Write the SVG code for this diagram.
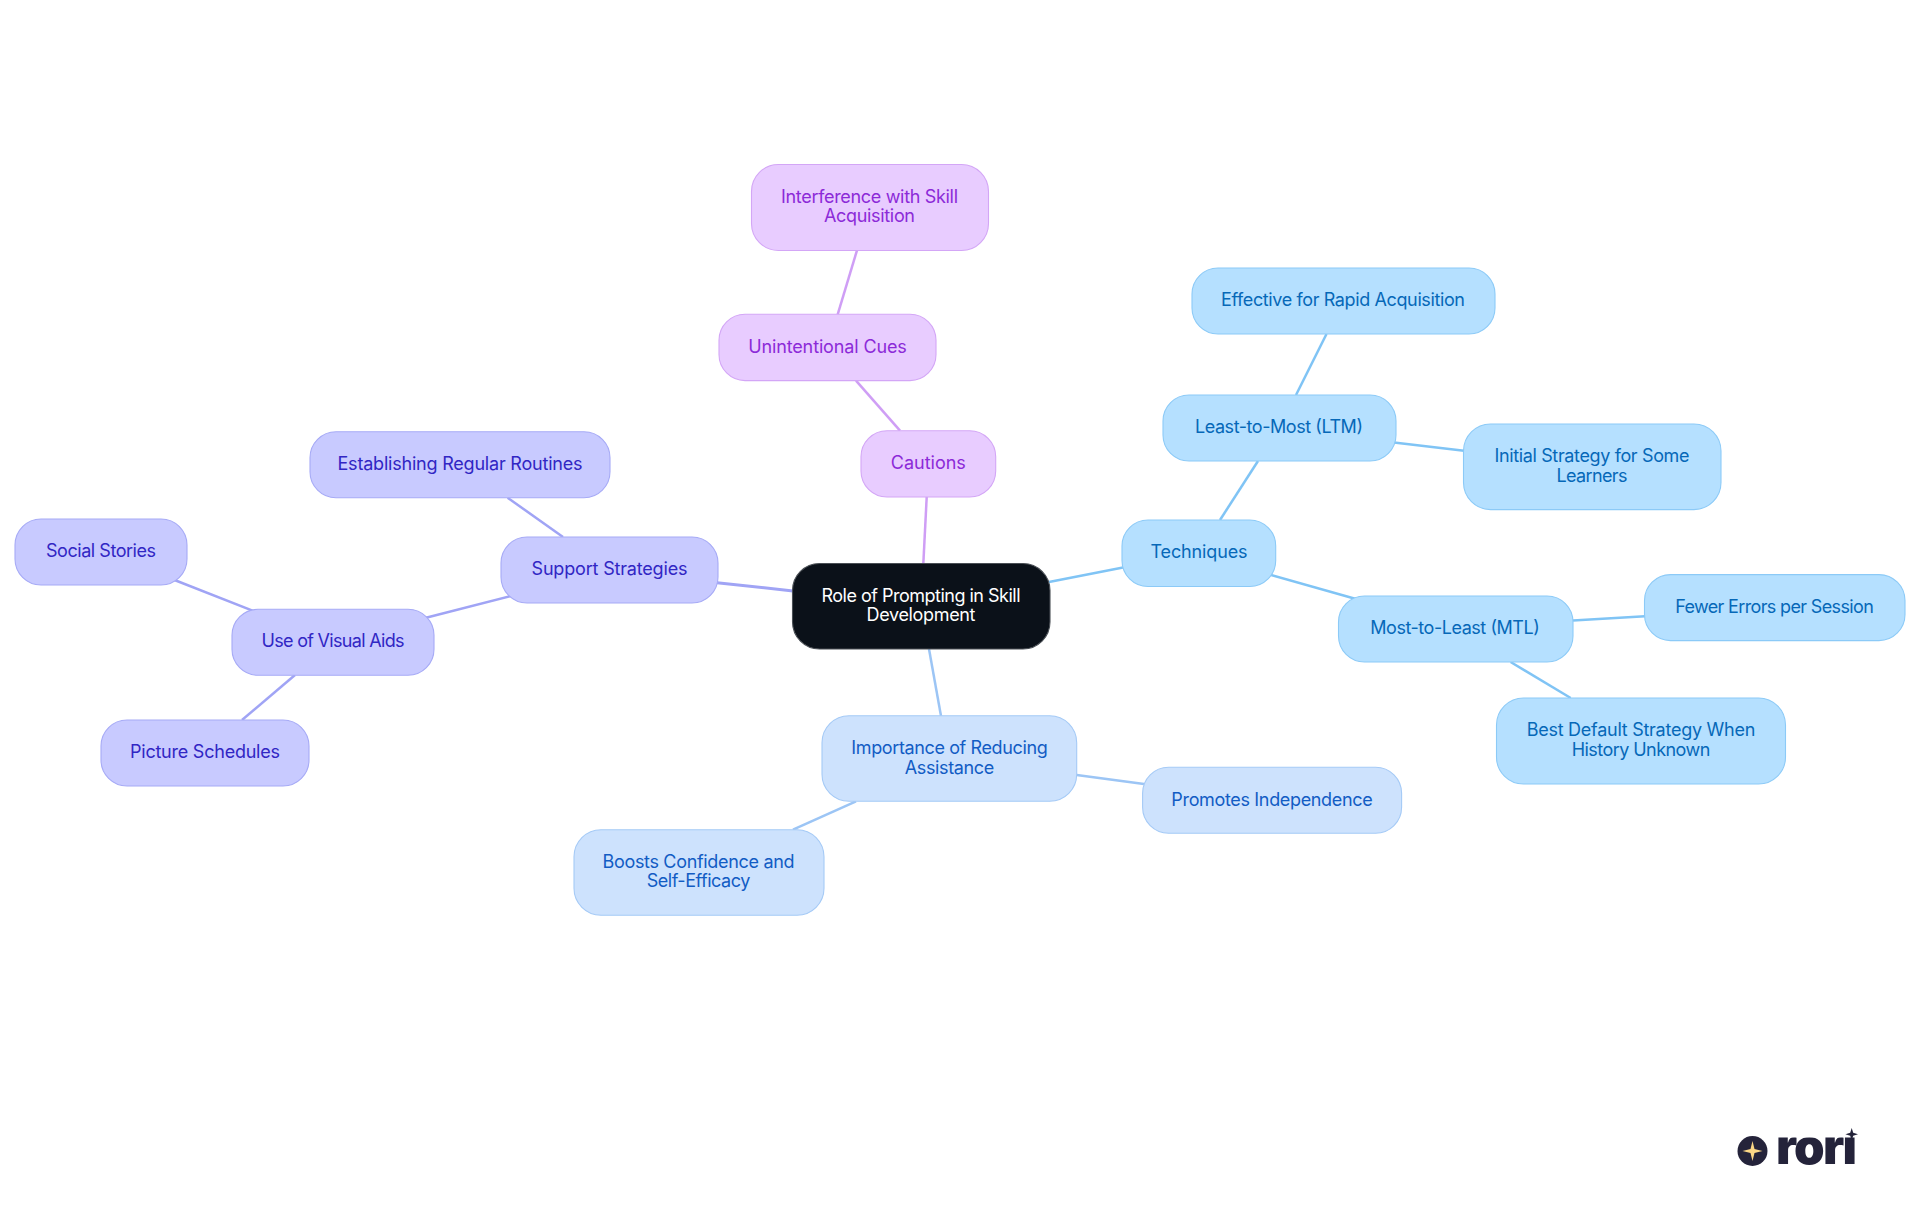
<svg xmlns="http://www.w3.org/2000/svg" width="1920" height="1215" viewBox="0 0 1920 1215">
<style>
text{font-family:"Inter","Noto Sans","Liberation Sans",sans-serif;font-size:18px;font-weight:385;text-anchor:middle}
rect{stroke-width:1.1}
.c line{stroke-width:2.5;fill:none}
.root rect{fill:#0b1119;stroke:#4a4f55}.root text{fill:#ffffff}
.sky rect{fill:#b5e0ff;stroke:#8ccaf7}.sky text{fill:#0668b8}
.blu rect{fill:#cde2fd;stroke:#a5caf6}.blu text{fill:#125cc4}
.ind rect{fill:#c8caff;stroke:#a6aaf6}.ind text{fill:#3126c4}
.pur rect{fill:#e8ccff;stroke:#d3a6f6}.pur text{fill:#8c2ad8}
.sl{stroke:#80c4f5}.bl{stroke:#9cc5f5}.il{stroke:#a0a4f5}.pl{stroke:#cf9ef5}
</style>
<defs><clipPath id="logo-clip"><rect x="1770" y="1137.4" width="95" height="30"/></clipPath></defs>
<rect width="1920" height="1215" fill="#fff" stroke="none"/>
<g id="connectors" class="c">
<line class="il" x1="717" y1="582.7" x2="793" y2="591" style="stroke-width:3"/>
<line class="il" x1="563" y1="537" x2="507.6" y2="497.7"/>
<line class="il" x1="511" y1="596" x2="425" y2="618"/>
<line class="il" x1="252.5" y1="610.7" x2="174.5" y2="580"/>
<line class="il" x1="295" y1="675" x2="242" y2="720"/>
<line class="pl" x1="926.7" y1="497" x2="923.3" y2="564"/>
<line class="pl" x1="856" y1="380.7" x2="900" y2="430.7"/>
<line class="pl" x1="837.7" y1="314.3" x2="857" y2="250.3"/>
<line class="sl" x1="1049" y1="582" x2="1123" y2="567.5"/>
<line class="sl" x1="1220" y1="520" x2="1258" y2="461"/>
<line class="sl" x1="1296" y1="395" x2="1326.5" y2="334"/>
<line class="sl" x1="1394" y1="442.6" x2="1464" y2="450.7"/>
<line class="sl" x1="1270" y1="574.6" x2="1356" y2="599"/>
<line class="sl" x1="1573" y1="620.5" x2="1645" y2="616.3"/>
<line class="sl" x1="1510.6" y1="662" x2="1570.7" y2="698"/>
<line class="bl" x1="929" y1="649" x2="941" y2="716"/>
<line class="bl" x1="1076.7" y1="775" x2="1144" y2="784"/>
<line class="bl" x1="856" y1="801.3" x2="793" y2="829.7"/>
</g>
<g id="root" class="root"><rect x="792.5" y="563.5" width="257.5" height="85.5" rx="27"/><text x="921" y="602" textLength="199">Role of Prompting in Skill</text><text x="921" y="621" textLength="109">Development</text></g>
<g id="support" class="ind"><rect x="501" y="537" width="217" height="66" rx="26"/><text x="609.5" y="575" textLength="156">Support Strategies</text></g>
<g id="routines" class="ind"><rect x="310" y="431.7" width="300" height="66" rx="26"/><text x="460" y="470" textLength="245">Establishing Regular Routines</text></g>
<g id="visual" class="ind"><rect x="232" y="609.3" width="202" height="66" rx="26"/><text x="333" y="647" textLength="143">Use of Visual Aids</text></g>
<g id="social" class="ind"><rect x="15" y="519" width="172" height="66" rx="26"/><text x="101" y="557" textLength="110">Social Stories</text></g>
<g id="picture" class="ind"><rect x="101" y="720" width="208" height="66" rx="26"/><text x="205" y="758" textLength="150">Picture Schedules</text></g>
<g id="cautions" class="pur"><rect x="861" y="430.7" width="134.7" height="66.3" rx="26"/><text x="928.3" y="468.5" textLength="75">Cautions</text></g>
<g id="cues" class="pur"><rect x="719" y="314.3" width="217" height="66.3" rx="26"/><text x="827.5" y="353" textLength="158.7">Unintentional Cues</text></g>
<g id="interference" class="pur"><rect x="751.5" y="164.5" width="237" height="86" rx="27"/><text x="869.5" y="203" textLength="177">Interference with Skill</text><text x="869.5" y="222" textLength="91">Acquisition</text></g>
<g id="techniques" class="sky"><rect x="1122" y="520" width="153.7" height="66.5" rx="26"/><text x="1199" y="558" textLength="97">Techniques</text></g>
<g id="ltm" class="sky"><rect x="1163" y="395" width="233" height="66" rx="26"/><text x="1279" y="433" textLength="168">Least-to-Most (LTM)</text></g>
<g id="effective" class="sky"><rect x="1192" y="268" width="303" height="66" rx="26"/><text x="1343" y="306" textLength="244">Effective for Rapid Acquisition</text></g>
<g id="initial" class="sky"><rect x="1463.5" y="424" width="257.5" height="85.6" rx="27"/><text x="1592" y="462" textLength="195">Initial Strategy for Some</text><text x="1592" y="482" textLength="71">Learners</text></g>
<g id="mtl" class="sky"><rect x="1338.5" y="596" width="234.5" height="66" rx="26"/><text x="1455" y="634" textLength="169.5">Most-to-Least (MTL)</text></g>
<g id="fewer" class="sky"><rect x="1644.5" y="574.6" width="260.5" height="66" rx="26"/><text x="1774.5" y="613" textLength="198.7">Fewer Errors per Session</text></g>
<g id="best" class="sky"><rect x="1496.5" y="698" width="289" height="86" rx="27"/><text x="1641" y="736" textLength="228.6">Best Default Strategy When</text><text x="1641" y="756" textLength="138.6">History Unknown</text></g>
<g id="importance" class="blu"><rect x="822" y="715.7" width="254.7" height="85.6" rx="27"/><text x="949.5" y="754" textLength="196.4">Importance of Reducing</text><text x="949.5" y="774" textLength="89.4">Assistance</text></g>
<g id="promotes" class="blu"><rect x="1142.6" y="767.3" width="259" height="66" rx="26"/><text x="1272" y="806" textLength="201.3">Promotes Independence</text></g>
<g id="boosts" class="blu"><rect x="574" y="829.7" width="250" height="85.6" rx="27"/><text x="698.5" y="868" textLength="192">Boosts Confidence and</text><text x="698.5" y="887" textLength="103.7">Self-Efficacy</text></g>
<g id="logo">
<circle cx="1752.5" cy="1151" r="15" fill="#24233a"/>
<polygon points="1752.5,1141 1754.5,1149 1762.5,1151 1754.5,1153 1752.5,1161 1750.5,1153 1742.5,1151 1750.5,1149" fill="#fbd786"/>
<text x="1816.5" y="1164" clip-path="url(#logo-clip)" style="font-size:49px;font-weight:900;fill:#24233a" textLength="81">rori</text>
<polygon points="1851.7,1128 1853.2,1132.8 1858,1134.3 1853.2,1135.8 1851.7,1140.6 1850.2,1135.8 1845.4,1134.3 1850.2,1132.8" fill="#24233a"/>
</g>
</svg>
